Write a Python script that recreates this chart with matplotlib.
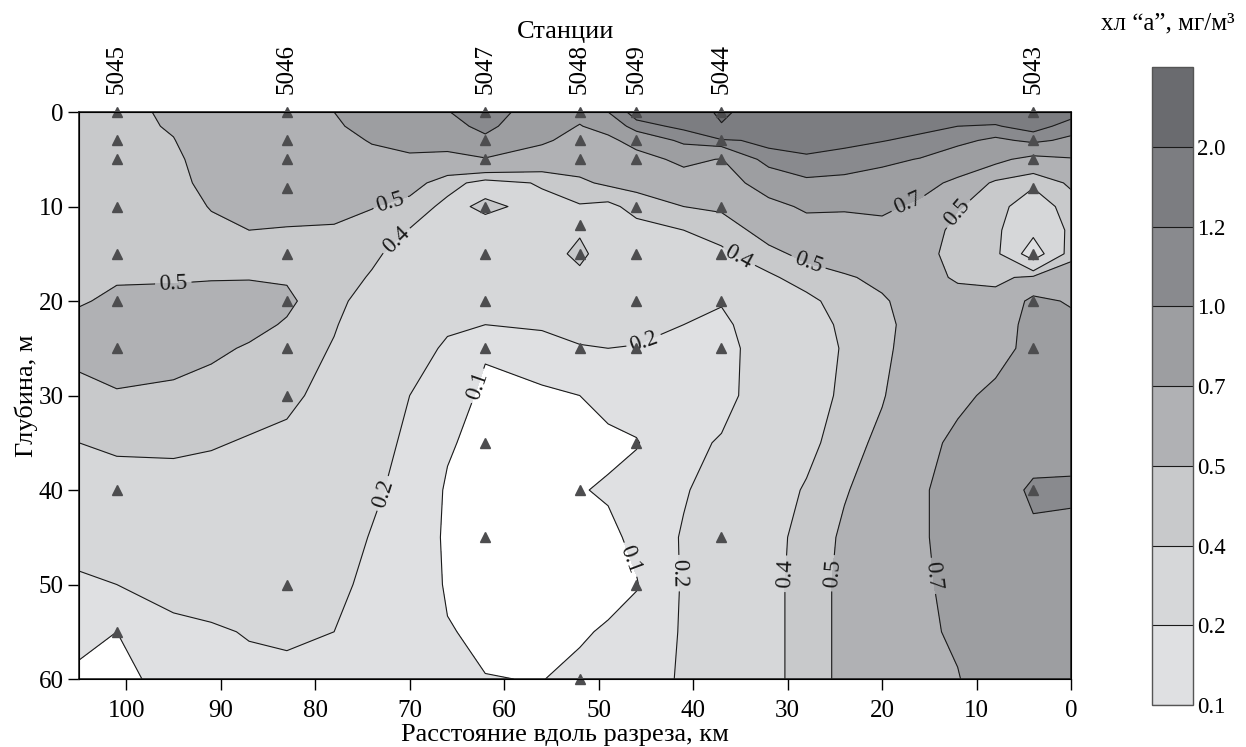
import numpy as np
import matplotlib.pyplot as plt

plt.rcParams["font.family"] = ["Liberation Serif", "DejaVu Serif"]

# --- grid of estimated chlorophyll values (mg/m3) ---
distance_km = [0, 4, 8, 12, 16, 20, 24, 28, 32, 37, 41, 46, 49, 52, 56,
               62, 66, 70, 74, 78, 83, 87, 91, 95, 101, 105]
depth_m = [0, 1.5, 3, 5, 7.5, 10, 12.5, 15, 17.5, 20, 22.5, 25, 30, 35, 40,
           45, 50, 55, 60]

# one profile (top -> bottom) per distance node
profiles = [
    [1.30, 1.10, 0.95, 0.68, 0.52, 0.45, 0.43, 0.47, 0.56, 0.68, 0.75, 0.78, 0.80, 0.88, 1.05, 0.92, 0.88, 0.86, 0.85],
    [1.45, 1.30, 1.05, 0.62, 0.42, 0.33, 0.25, 0.09, 0.52, 0.75, 0.78, 0.76, 0.78, 0.85, 1.05, 0.95, 0.88, 0.86, 0.85],
    [1.35, 1.18, 0.95, 0.76, 0.47, 0.44, 0.43, 0.44, 0.48, 0.53, 0.58, 0.63, 0.74, 0.82, 0.85, 0.85, 0.84, 0.83, 0.82],
    [1.32, 1.20, 1.06, 0.86, 0.65, 0.51, 0.46, 0.46, 0.49, 0.53, 0.57, 0.60, 0.66, 0.74, 0.79, 0.76, 0.75, 0.73, 0.69],
    [1.38, 1.26, 1.15, 0.99, 0.78, 0.66, 0.58, 0.54, 0.53, 0.54, 0.55, 0.57, 0.60, 0.64, 0.67, 0.68, 0.67, 0.66, 0.64],
    [1.50, 1.35, 1.21, 1.05, 0.90, 0.74, 0.64, 0.57, 0.52, 0.49, 0.47, 0.47, 0.49, 0.53, 0.56, 0.57, 0.57, 0.56, 0.55],
    [1.45, 1.35, 1.25, 1.13, 0.93, 0.72, 0.63, 0.55, 0.49, 0.45, 0.42, 0.41, 0.42, 0.45, 0.49, 0.52, 0.53, 0.53, 0.53],
    [1.45, 1.37, 1.28, 1.17, 0.95, 0.73, 0.62, 0.53, 0.45, 0.37, 0.35, 0.34, 0.35, 0.37, 0.41, 0.43, 0.44, 0.44, 0.44],
    [1.50, 1.40, 1.27, 1.10, 0.80, 0.64, 0.55, 0.47, 0.38, 0.33, 0.29, 0.26, 0.27, 0.31, 0.35, 0.37, 0.37, 0.37, 0.37],
    [2.15, 1.95, 1.15, 0.69, 0.60, 0.52, 0.44, 0.38, 0.28, 0.21, 0.17, 0.16, 0.16, 0.21, 0.25, 0.27, 0.27, 0.27, 0.27],
    [1.45, 1.25, 1.06, 0.75, 0.60, 0.50, 0.40, 0.34, 0.29, 0.24, 0.20, 0.18, 0.17, 0.17, 0.19, 0.21, 0.21, 0.21, 0.21],
    [1.30, 1.12, 0.78, 0.62, 0.54, 0.44, 0.36, 0.33, 0.30, 0.27, 0.23, 0.195, 0.14, 0.095, 0.13, 0.12, 0.095, 0.13, 0.16],
    [1.00, 0.78, 0.65, 0.57, 0.52, 0.37, 0.33, 0.31, 0.29, 0.26, 0.23, 0.20, 0.13, 0.08, 0.11, 0.08, 0.07, 0.11, 0.14],
    [0.76, 0.69, 0.63, 0.56, 0.48, 0.39, 0.38, 0.44, 0.36, 0.30, 0.25, 0.19, 0.10, 0.08, 0.095, 0.07, 0.07, 0.09, 0.12],
    [0.86, 0.80, 0.73, 0.60, 0.41, 0.37, 0.34, 0.32, 0.29, 0.25, 0.21, 0.17, 0.08, 0.065, 0.06, 0.06, 0.065, 0.08, 0.098],
    [1.12, 1.06, 0.95, 0.68, 0.36, 0.42, 0.36, 0.30, 0.26, 0.225, 0.20, 0.11, 0.08, 0.07, 0.065, 0.065, 0.07, 0.085, 0.102],
    [0.99, 0.92, 0.80, 0.63, 0.44, 0.37, 0.33, 0.30, 0.27, 0.24, 0.21, 0.19, 0.15, 0.11, 0.09, 0.085, 0.09, 0.105, 0.12],
    [0.88, 0.82, 0.76, 0.67, 0.55, 0.46, 0.395, 0.35, 0.32, 0.28, 0.26, 0.23, 0.20, 0.18, 0.17, 0.165, 0.165, 0.165, 0.17],
    [0.80, 0.75, 0.71, 0.66, 0.58, 0.505, 0.46, 0.42, 0.39, 0.35, 0.32, 0.30, 0.27, 0.24, 0.215, 0.195, 0.18, 0.17, 0.165],
    [0.70, 0.68, 0.65, 0.62, 0.57, 0.53, 0.49, 0.47, 0.45, 0.43, 0.41, 0.39, 0.35, 0.31, 0.27, 0.24, 0.22, 0.20, 0.19],
    [0.64, 0.64, 0.63, 0.61, 0.57, 0.53, 0.495, 0.48, 0.49, 0.52, 0.49, 0.47, 0.43, 0.37, 0.32, 0.27, 0.24, 0.21, 0.185],
    [0.62, 0.62, 0.61, 0.59, 0.56, 0.53, 0.50, 0.48, 0.495, 0.54, 0.53, 0.49, 0.45, 0.39, 0.33, 0.28, 0.24, 0.205, 0.18],
    [0.60, 0.60, 0.59, 0.57, 0.54, 0.505, 0.48, 0.47, 0.495, 0.53, 0.55, 0.52, 0.46, 0.41, 0.35, 0.29, 0.24, 0.19, 0.16],
    [0.53, 0.515, 0.495, 0.47, 0.46, 0.46, 0.46, 0.47, 0.49, 0.53, 0.57, 0.56, 0.47, 0.42, 0.36, 0.29, 0.23, 0.18, 0.15],
    [0.45, 0.45, 0.45, 0.45, 0.46, 0.46, 0.47, 0.47, 0.49, 0.52, 0.56, 0.56, 0.49, 0.42, 0.35, 0.27, 0.20, 0.10, 0.06],
    [0.45, 0.45, 0.45, 0.45, 0.46, 0.46, 0.46, 0.47, 0.48, 0.49, 0.53, 0.53, 0.47, 0.40, 0.33, 0.25, 0.18, 0.13, 0.08],
]

# --- stations and sampling depths ---
station_names = ["5045", "5046", "5047", "5048", "5049", "5044", "5043"]
station_km = [101, 83, 62, 52, 46, 37, 4]
station_depths = [
    [0, 3, 5, 10, 15, 20, 25, 40, 55],
    [0, 3, 5, 8, 15, 20, 25, 30, 50],
    [0, 3, 5, 10, 15, 20, 25, 35, 45],
    [0, 3, 5, 12, 15, 25, 40, 60],
    [0, 3, 5, 10, 15, 20, 25, 35, 50],
    [0, 3, 5, 10, 15, 20, 25, 45],
    [0, 3, 5, 8, 15, 20, 25, 40],
]

levels = [0.1, 0.2, 0.4, 0.5, 0.7, 1.0, 1.2, 2.0, 3.0]
level_labels = ["0.1", "0.2", "0.4", "0.5", "0.7", "1.0", "1.2", "2.0"]
fill_colors = ["#dfe0e2", "#d6d7d9", "#c8c9cb", "#b0b1b4",
               "#9d9ea1", "#898a8e", "#7c7d81", "#6a6b6f"]

# label positions (km, m) for contour labels
label_spots = [(72, 9.6), (71.5, 13.5), (95, 18.7), (63.6, 28.7), (73, 40.3),
               (45.3, 24.1), (47.5, 47.7), (41.6, 48.8), (35, 15),
               (27.8, 15.9), (31.3, 48.8), (25.3, 48.8), (15.7, 49.2),
               (17.2, 9.8), (11.7, 10.9)]

X, Y = np.meshgrid(distance_km, depth_m)
Z = np.array(profiles).T

fig = plt.figure(figsize=(12.46, 7.47), dpi=100)
ax = fig.add_axes([0.0634, 0.091, 0.7962, 0.759])
ax.set_facecolor("white")

cf = ax.contourf(X, Y, Z, levels=levels, colors=fill_colors)
cs = ax.contour(X, Y, Z, levels=levels[:-1], colors="#1a1a1a", linewidths=0.8)
ax.clabel(cs, fmt="%.1f", fontsize=16.5, inline=True, inline_spacing=4,
          manual=label_spots)

for sx, deps in zip(station_km, station_depths):
    ax.plot([sx] * len(deps), deps, linestyle="none", marker="^",
            markersize=7, color="#4d4d4f", clip_on=False, zorder=5)

ax.set_xlim(105, 0)
ax.set_ylim(60, 0)
ax.set_xticks(np.arange(0, 101, 10))
ax.set_yticks(np.arange(0, 61, 10))
ax.tick_params(direction="out", length=8, width=1, labelsize=18, pad=3)
ax.tick_params(axis="x", pad=7)
for sp in ax.spines.values():
    sp.set_linewidth(1.2)
    sp.set_color("#222222")
ax.set_xlabel("Расстояние вдоль разреза, км", fontsize=19)
ax.set_ylabel("Глубина, м", fontsize=19)
ax.xaxis.set_label_coords(0.49, -0.079)
ax.yaxis.set_label_coords(-0.041, 0.5)

top = ax.twiny()
top.set_xlim(ax.get_xlim())
top.set_xticks(station_km)
top.set_xticklabels(station_names, rotation=90, fontsize=18)
top.tick_params(length=0, pad=13)
top.set_xlabel("Станции", fontsize=19)
top.xaxis.set_label_coords(0.49, 1.13)

cax = fig.add_axes([0.9246, 0.0562, 0.0329, 0.854])
cb = fig.colorbar(cf, cax=cax, ticks=levels[:-1])
cb.set_ticklabels(level_labels)
cb.add_lines(cs)
cb.outline.set_edgecolor("#555555")
cb.outline.set_linewidth(1.0)
cax.tick_params(length=0, labelsize=16.5, pad=3)
fig.text(0.937, 0.968, "хл “а”, мг/м³", fontsize=18, ha="center", va="center")

fig.savefig("out.png", dpi=100)
